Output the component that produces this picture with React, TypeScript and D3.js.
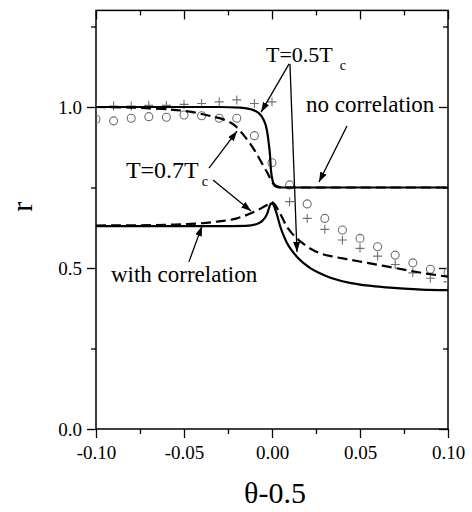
import React, { useRef, useEffect } from 'react';
import * as d3 from 'd3';

// axis ticks
const xTicks = [-0.1, -0.05, 0, 0.05, 0.1];
const xMinorTicks = [-0.075, -0.025, 0.025, 0.075];
const yTicks = [0, 0.5, 1.0];
const yMinorTicks = [0.25, 0.75, 1.25];

// simulation points (theta-0.5, r)
const markerTheta = [-0.1, -0.09, -0.08, -0.07, -0.06, -0.05, -0.04, -0.03, -0.02, -0.01, 0, 0.01, 0.02, 0.03, 0.04, 0.05, 0.06, 0.07, 0.08, 0.09, 0.1];
const crossR = [1.0, 1.003, 1.003, 1.005, 1.005, 1.008, 1.011, 1.016, 1.022, 1.011, 1.016, 0.706, 0.654, 0.62, 0.587, 0.561, 0.537, 0.511, 0.485, 0.468, 0.457];
const circleR = [0.962, 0.957, 0.965, 0.97, 0.968, 0.975, 0.973, 0.965, 0.965, 0.911, 0.827, 0.758, 0.699, 0.654, 0.618, 0.592, 0.566, 0.54, 0.516, 0.496, 0.487];

// theory curves
const noCorr05 = [
  [-0.1, 1.0], [-0.03, 1.0], [-0.018, 0.998], [-0.0115, 0.992], [-0.0078, 0.982], [-0.005, 0.963],
  [-0.0034, 0.94], [-0.0025, 0.915], [-0.0018, 0.885], [-0.0012, 0.855], [-0.0006, 0.805],
  [0.0004, 0.77], [0.0015, 0.755], [0.004, 0.75], [0.1, 0.75],
];
const noCorr07 = [
  [-0.1, 1.0], [-0.08, 0.998], [-0.06, 0.993], [-0.045, 0.984], [-0.035, 0.972], [-0.027, 0.96],
  [-0.021, 0.942], [-0.015, 0.905], [-0.01, 0.866], [-0.006, 0.828], [-0.0025, 0.794],
  [0.0005, 0.763], [0.004, 0.752], [0.008, 0.75], [0.1, 0.75],
];
const withCorr05 = [
  [-0.1, 0.63], [-0.03, 0.63], [-0.015, 0.631], [-0.009, 0.636], [-0.006, 0.644], [-0.004, 0.656],
  [-0.0025, 0.672], [-0.0015, 0.69], [-0.0005, 0.701], [0.0005, 0.699], [0.0015, 0.688],
  [0.003, 0.662], [0.0045, 0.632], [0.0065, 0.602], [0.0085, 0.578], [0.011, 0.556], [0.014, 0.536],
  [0.018, 0.515], [0.022, 0.499], [0.026, 0.487], [0.03, 0.477], [0.036, 0.465], [0.045, 0.453],
  [0.055, 0.445], [0.065, 0.44], [0.075, 0.436], [0.085, 0.433], [0.1, 0.431],
];
const withCorr07 = [
  [-0.1, 0.632], [-0.07, 0.633], [-0.055, 0.635], [-0.04, 0.639], [-0.03, 0.645], [-0.02, 0.654],
  [-0.012, 0.67], [-0.006, 0.686], [-0.002, 0.698], [0, 0.704], [0.0015, 0.698], [0.003, 0.685],
  [0.0055, 0.66], [0.008, 0.632], [0.011, 0.61], [0.0174, 0.577], [0.0225, 0.558], [0.0288, 0.543],
  [0.035, 0.535], [0.045, 0.525], [0.055, 0.515], [0.065, 0.505], [0.075, 0.495], [0.085, 0.485],
  [0.1, 0.473],
];

// annotations, in data units
const labels = [
  { text: 'T=0.5T', sub: 'c', subDx: 7, at: [-0.0034, 1.14], size: 22 },
  { text: 'T=0.7T', sub: 'c', subDx: 3, at: [-0.083, 0.78], size: 24 },
  { text: 'no correlation', sub: '', subDx: 0, at: [0.0193, 0.984], size: 23 },
  { text: 'with correlation', sub: '', subDx: 0, at: [-0.0915, 0.4565], size: 23 },
];
const arrows = [
  [[0.0097, 1.134], [-0.0062, 0.984]],
  [[0.0102, 1.134], [0.0142, 0.55]],
  [[-0.0358, 0.81], [-0.0199, 0.925]],
  [[-0.0335, 0.773], [-0.0119, 0.677]],
  [[0.0426, 0.941], [0.0267, 0.767]],
  [[-0.0472, 0.519], [-0.0398, 0.63]],
];

const FONT = "'Liberation Serif', 'Times New Roman', serif";

export default function App() {
  const svgRef = useRef<SVGSVGElement>(null);

  useEffect(() => {
    const svg = d3.select(svgRef.current);
    svg.selectAll('*').remove();

    const left = 96, right = 448, top = 10.4, bottom = 429;
    const x = d3.scaleLinear().domain([-0.1, 0.1]).range([left, right]);
    const y = d3.scaleLinear().domain([0, 1.3]).range([bottom, top]);

    const defs = svg.append('defs');
    defs.append('clipPath').attr('id', 'plot-clip')
      .append('rect').attr('x', left).attr('y', top)
      .attr('width', right - left).attr('height', bottom - top);
    defs.append('marker')
      .attr('id', 'arrow-head')
      .attr('viewBox', '0 0 10 10')
      .attr('refX', 10).attr('refY', 5)
      .attr('markerWidth', 10).attr('markerHeight', 7)
      .attr('markerUnits', 'userSpaceOnUse')
      .attr('preserveAspectRatio', 'none')
      .attr('orient', 'auto')
      .append('path').attr('d', 'M0,0 L10,5 L0,10 Z').attr('fill', '#000');

    // axes: outer ticks bottom/left, inner ticks top/right
    const styleAxis = (g) => {
      g.select('.domain').remove();
      g.selectAll('line').attr('stroke', '#000').attr('stroke-width', 1.3);
      g.selectAll('text').attr('font-family', FONT).attr('font-size', 19).attr('fill', '#000');
    };
    svg.append('g').attr('transform', `translate(0,${bottom})`)
      .call(d3.axisBottom(x).tickValues(xTicks).tickSize(9).tickPadding(8).tickFormat((d) => d.toFixed(2)))
      .call(styleAxis);
    svg.append('g').attr('transform', `translate(0,${bottom})`)
      .call(d3.axisBottom(x).tickValues(xMinorTicks).tickSize(5).tickFormat(() => ''))
      .call(styleAxis);
    svg.append('g').attr('transform', `translate(${left},0)`)
      .call(d3.axisLeft(y).tickValues(yTicks).tickSize(9).tickPadding(5).tickFormat((d) => d.toFixed(1)))
      .call(styleAxis);
    svg.append('g').attr('transform', `translate(${left},0)`)
      .call(d3.axisLeft(y).tickValues(yMinorTicks).tickSize(5).tickFormat(() => ''))
      .call(styleAxis);
    svg.append('g').attr('transform', `translate(0,${top})`)
      .call(d3.axisTop(x).tickValues(xTicks).tickSize(-9).tickFormat(() => ''))
      .call(styleAxis);
    svg.append('g').attr('transform', `translate(0,${top})`)
      .call(d3.axisTop(x).tickValues(xMinorTicks).tickSize(-5).tickFormat(() => ''))
      .call(styleAxis);
    svg.append('g').attr('transform', `translate(${right},0)`)
      .call(d3.axisRight(y).tickValues(yTicks).tickSize(-9).tickFormat(() => ''))
      .call(styleAxis);
    svg.append('g').attr('transform', `translate(${right},0)`)
      .call(d3.axisRight(y).tickValues(yMinorTicks).tickSize(-5).tickFormat(() => ''))
      .call(styleAxis);

    svg.append('rect')
      .attr('x', left).attr('y', top)
      .attr('width', right - left).attr('height', bottom - top)
      .attr('fill', 'none').attr('stroke', '#000').attr('stroke-width', 1.5);

    const plot = svg.append('g').attr('clip-path', 'url(#plot-clip)');

    // simulation markers
    plot.selectAll('.circ')
      .data(markerTheta)
      .join('circle')
      .attr('class', 'circ')
      .attr('cx', (d) => x(d))
      .attr('cy', (d, i) => y(circleR[i]))
      .attr('r', 4)
      .attr('fill', 'none')
      .attr('stroke', '#707070')
      .attr('stroke-width', 1.1);
    plot.selectAll('.cross')
      .data(markerTheta)
      .join('path')
      .attr('class', 'cross')
      .attr('d', (d, i) => {
        const cx = x(d), cy = y(crossR[i]);
        return `M${cx - 4.5},${cy}h9M${cx},${cy - 4.5}v9`;
      })
      .attr('stroke', '#707070')
      .attr('stroke-width', 1.1);

    // theory lines
    const line = d3.line().x((d) => x(d[0])).y((d) => y(d[1])).curve(d3.curveMonotoneX);
    const curves = [
      { data: noCorr05, dash: null },
      { data: noCorr07, dash: '10,5' },
      { data: withCorr05, dash: null },
      { data: withCorr07, dash: '10,5' },
    ];
    plot.selectAll('.curve')
      .data(curves)
      .join('path')
      .attr('class', 'curve')
      .attr('d', (c) => line(c.data))
      .attr('fill', 'none')
      .attr('stroke', '#000')
      .attr('stroke-width', 2.2)
      .attr('stroke-dasharray', (c) => c.dash);

    // arrows
    svg.selectAll('.arrow')
      .data(arrows)
      .join('line')
      .attr('class', 'arrow')
      .attr('x1', (a) => x(a[0][0])).attr('y1', (a) => y(a[0][1]))
      .attr('x2', (a) => x(a[1][0])).attr('y2', (a) => y(a[1][1]))
      .attr('stroke', '#000')
      .attr('stroke-width', 1.3)
      .attr('marker-end', 'url(#arrow-head)');

    // annotation text
    const txt = svg.selectAll('.note')
      .data(labels)
      .join('text')
      .attr('class', 'note')
      .attr('x', (l) => x(l.at[0]))
      .attr('y', (l) => y(l.at[1]))
      .attr('font-family', FONT)
      .attr('font-size', (l) => l.size)
      .attr('fill', '#000');
    txt.append('tspan').attr('fill', '#000').text((l) => l.text);
    txt.filter((l) => l.sub).append('tspan')
      .attr('font-size', 14).attr('fill', '#000')
      .attr('dx', (l) => l.subDx).attr('dy', 8)
      .text((l) => l.sub);

    // axis titles
    svg.append('text')
      .attr('x', (left + right) / 2 + 3).attr('y', 503)
      .attr('text-anchor', 'middle')
      .attr('font-family', FONT).attr('font-size', 30).attr('fill', '#000')
      .text('θ-0.5');
    svg.append('text')
      .attr('transform', `translate(32,${y(0.69)}) rotate(-90)`)
      .attr('text-anchor', 'middle')
      .attr('font-family', FONT).attr('font-size', 30).attr('fill', '#000')
      .text('r');
  }, []);

  return (
    <svg ref={svgRef} width={472} height={512}
      style={{ position: 'absolute', left: 0, top: 0, background: '#fff' }} />
  );
}
